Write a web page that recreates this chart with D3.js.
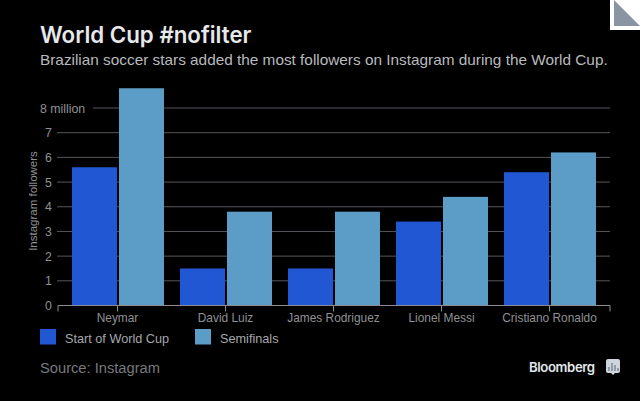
<!DOCTYPE html>
<html>
<head>
<meta charset="utf-8">
<script src="https://cdn.jsdelivr.net/npm/d3@7"></script>
<style>
html, body { margin: 0; padding: 0; background: #000; overflow: hidden; }
text { font-family: "Liberation Sans", sans-serif; }
</style>
</head>
<body>
<div id="chart"></div>
<script>
const players = ["Neymar", "David Luiz", "James Rodriguez", "Lionel Messi", "Cristiano Ronaldo"];
const startOfCup = [5.6, 1.5, 1.5, 3.4, 5.4];
const semifinals = [8.8, 3.8, 3.8, 4.4, 6.2];
const seriesNames = ["Start of World Cup", "Semifinals"];
const seriesColors = ["#2257d3", "#5c9dc8"];
const yTicks = [0, 1, 2, 3, 4, 5, 6, 7, 8];

const width = 640, height = 401;
const svg = d3.select("#chart").append("svg")
    .attr("width", width)
    .attr("height", height)
    .style("display", "block");

svg.append("rect").attr("width", width).attr("height", height).attr("fill", "#000");

// corner fold
svg.append("path").attr("d", "M610 0H640V30H610Z").attr("fill", "#fff");
svg.append("path").attr("d", "M614 0V26H640Z").attr("fill", "#8a94a3");

svg.append("text").attr("x", 40).attr("y", 42.5)
    .attr("font-size", 22.3).attr("font-weight", 600).attr("fill", "#e6e8ec")
    .style("font-family", "Inter, sans-serif")
    .text("World Cup #nofilter");
svg.append("text").attr("x", 40).attr("y", 65)
    .attr("font-size", 15.35).attr("fill", "#b8babe")
    .text("Brazilian soccer stars added the most followers on Instagram during the World Cup.");

const x = d3.scaleBand().domain(players).range([63.5, 603.5]);
const xInner = d3.scaleBand().domain(seriesNames).range([8.5, 100.5]).paddingInner(2 / 47);
const y = d3.scaleLinear().domain([0, 8]).range([305.5, 108]);

// gridlines, the top one stops short of the "8 million" label
svg.append("g").selectAll("line")
    .data(yTicks.filter(d => d > 0))
    .join("line")
    .attr("x1", d => d == 8 ? 93 : 57)
    .attr("x2", 610)
    .attr("y1", d => y(d))
    .attr("y2", d => y(d))
    .attr("stroke", "#55575c")
    .attr("stroke-width", 1);

// bars
[startOfCup, semifinals].forEach((values, s) => {
    svg.append("g").selectAll("rect")
        .data(values)
        .join("rect")
        .attr("x", (d, i) => x(players[i]) + xInner(seriesNames[s]))
        .attr("y", d => y(d))
        .attr("width", xInner.bandwidth())
        .attr("height", d => y(0) - y(d))
        .attr("fill", seriesColors[s]);
});

// x axis
const xAxis = svg.append("g").attr("transform", "translate(0,305.5)")
    .call(d3.axisBottom(x).tickSize(6).tickSizeOuter(0));
xAxis.select(".domain").attr("d", "M58 0H610").attr("stroke", "#8a8c90");
xAxis.selectAll("line").attr("stroke", "#8a8c90");
xAxis.selectAll("text").attr("font-size", 11.9).attr("fill", "#8f9195")
    .attr("y", 8).attr("dy", "0.71em");
[58, 610].forEach(px => {
    xAxis.append("line").attr("x1", px).attr("x2", px).attr("y1", 0).attr("y2", 6).attr("stroke", "#8a8c90");
});

// y labels
svg.append("g").selectAll("text")
    .data(yTicks)
    .join("text")
    .attr("x", d => d == 8 ? 40 : 45)
    .attr("y", d => y(d) + 4.5)
    .attr("font-size", 12.3)
    .attr("fill", "#8f9195")
    .text(d => d == 8 ? "8 million" : d);

svg.append("text")
    .attr("transform", "translate(36.5,201) rotate(-90)")
    .attr("text-anchor", "middle")
    .attr("font-size", 11.5)
    .attr("fill", "#8f9195")
    .text("Instagram followers");

// legend
seriesNames.forEach((name, i) => {
    const lx = [40, 195][i];
    svg.append("rect").attr("x", lx).attr("y", 329).attr("width", 16).attr("height", 15.5).attr("fill", seriesColors[i]);
    svg.append("text").attr("x", lx + 25).attr("y", 343)
        .attr("font-size", 12.7).attr("fill", "#a5a7ab").text(name);
});

svg.append("text").attr("x", 40).attr("y", 373)
    .attr("font-size", 14.7).attr("fill", "#77797d").text("Source: Instagram");

// logo
svg.append("text").attr("x", 529).attr("y", 372)
    .attr("font-size", 13.2).attr("font-weight", 600).attr("letter-spacing", -0.4).attr("fill", "#e3e6ea")
    .style("font-family", "Inter, sans-serif")
    .text("Bloomberg");
svg.append("path").attr("d", "M608 359H618Q620 359 620 361V371Q620 373 618 373H615L613 375L611 373H608Q606 373 606 371V361Q606 359 608 359Z").attr("fill", "#cfd5dc");
svg.append("path").attr("d", "M609 371V367M612 371V363M615 371V365M618 371V368").attr("stroke", "#6b7480").attr("stroke-width", 1.2);
</script>
</body>
</html>
